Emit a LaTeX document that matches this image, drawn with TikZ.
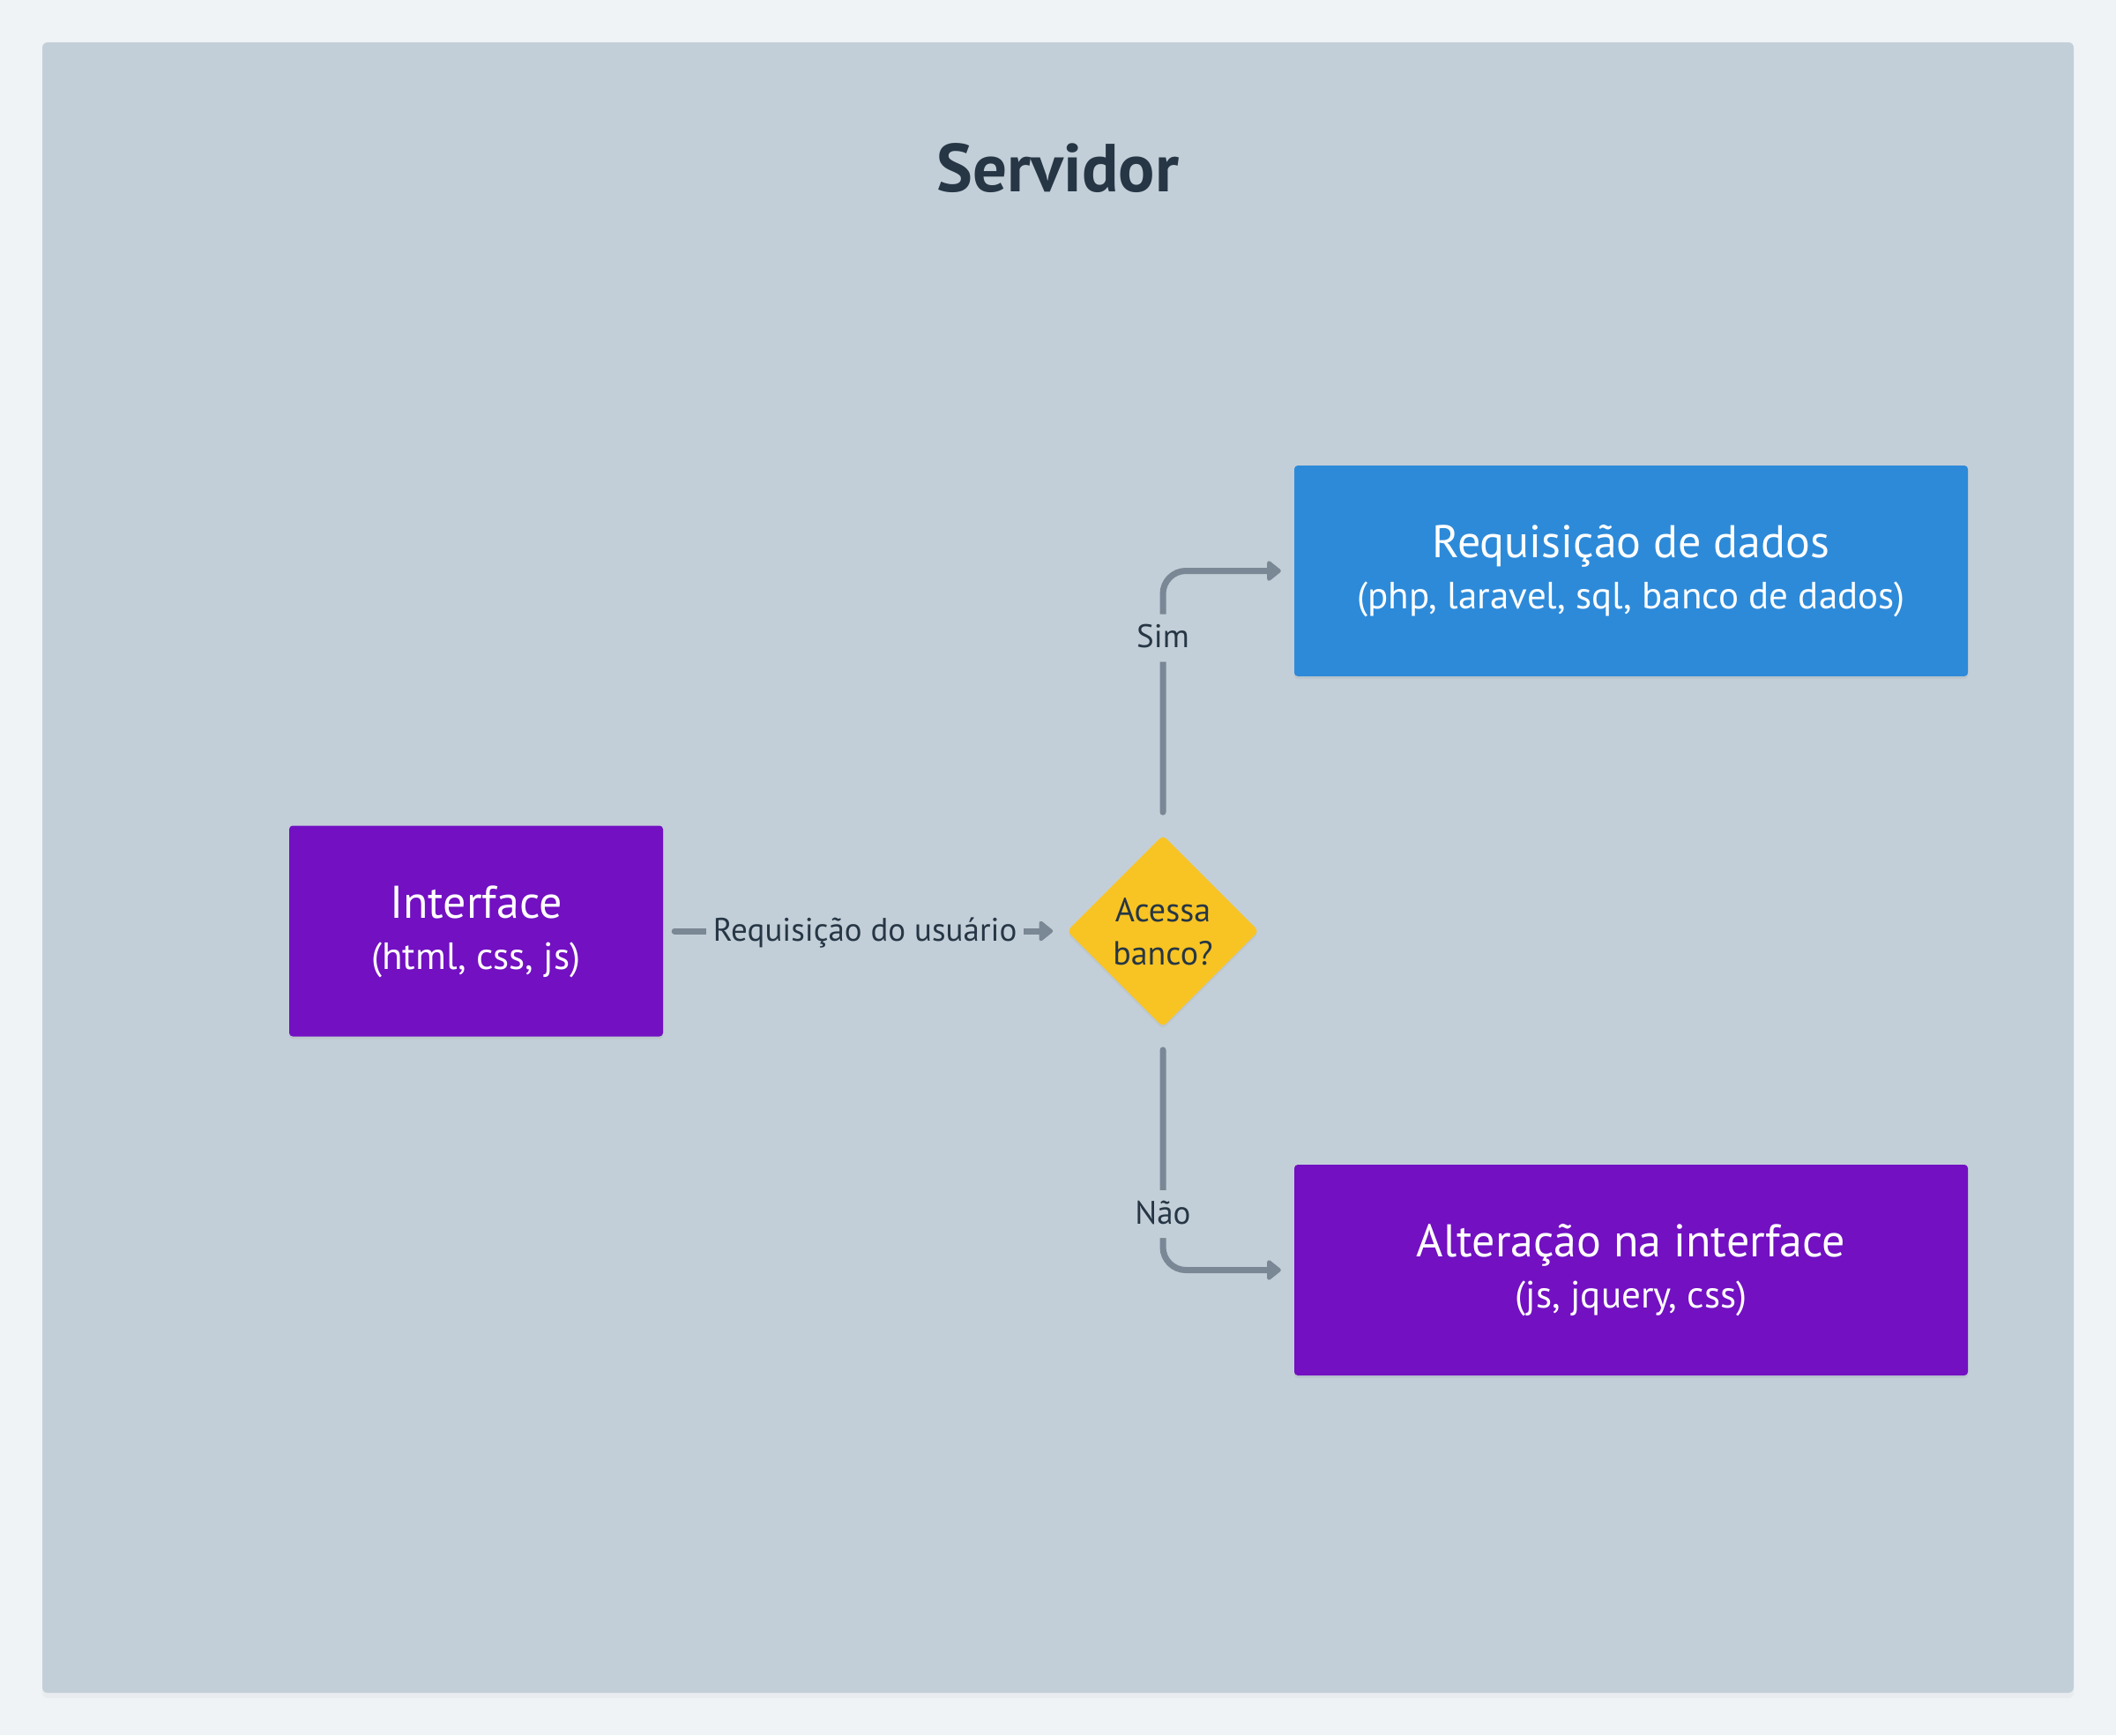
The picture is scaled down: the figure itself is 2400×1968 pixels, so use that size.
\documentclass[tikz,border=0pt]{standalone}
\usepackage{fontspec}
\setmainfont{PT Sans}
\usetikzlibrary{arrows.meta,shapes.geometric,shadows,calc}
\definecolor{pagebg}{HTML}{EFF3F6}
\definecolor{framebg}{HTML}{C3CFD8}
\definecolor{boxblue}{HTML}{2D8AD9}
\definecolor{boxpurple}{HTML}{7210C2}
\definecolor{diayellow}{HTML}{F8C424}
\definecolor{conngray}{HTML}{7A8794}
\definecolor{darktext}{HTML}{263645}
\newcommand\subline[1]{{\fontsize{43}{58}\selectfont #1}}
\tikzset{
  framebox/.style={fill=framebg, draw=none, rounded corners=6pt, inner sep=0pt,
    drop shadow={opacity=0.06, shadow xshift=0pt, shadow yshift=-6pt}},
  stepbox/.style={draw=none, rounded corners=4pt, minimum width=764pt, minimum height=239pt,
    text=white, align=center, inner sep=0pt, text height=100pt, text depth=14pt,
    font=\fontsize{52}{58}\selectfont,
    drop shadow={opacity=0.12, shadow xshift=0pt, shadow yshift=-3pt}},
  decision/.style={diamond, fill=diayellow, draw=none, rounded corners=5pt, inner sep=0pt,
    minimum width=212pt, minimum height=214pt, align=center, text=darktext,
    font=\fontsize{38}{49}\selectfont, text height=90pt, text depth=14pt,
    drop shadow={opacity=0.10, shadow xshift=0pt, shadow yshift=-3pt}},
  conn/.style={draw=conngray, line width=7pt, line cap=round,
    -{Triangle[round,length=17pt,width=26pt]}},
  lbl/.style={fill=framebg, text=darktext, inner xsep=8pt, inner ysep=10pt,
    text height=28pt, text depth=6pt, font=\fontsize{37}{44}\selectfont},
  titletext/.style={text=darktext, font=\fontsize{77}{84}\selectfont\bfseries, inner sep=0pt}
}
\begin{document}
\begin{tikzpicture}[x=1pt,y=-1pt]
\useasboundingbox (0,0) rectangle (2400,1968);
\fill[pagebg] (0,0) rectangle (2400,1968);
\node[framebox, minimum width=2304pt, minimum height=1872pt] (frame) at (1200,984) {};
\node[titletext, anchor=base] (title) at (1200,217) {Servidor};

\node[stepbox, fill=boxpurple, minimum width=424pt] (iface) at (540,1056)
  {Interface\\\subline{(html, css, js)}};
\node[stepbox, fill=boxblue] (req) at (1850,647.5)
  {Requisição de dados\\\subline{(php, laravel, sql, banco de dados)}};
\node[stepbox, fill=boxpurple] (alt) at (1850,1440.5)
  {Alteração na interface\\\subline{(js, jquery, css)}};
\node[decision] (dia) at (1319,1056) {Acessa\\banco?};

\draw[conn, shorten <=13pt, shorten >=16pt] (iface.east) -- node[lbl] {Requisição do usuário} (dia.west);
\draw[conn, rounded corners=26pt, shorten <=26pt, shorten >=15pt] (dia.north) |- node[lbl, pos=0.373, inner xsep=4pt] {Sim} (req.west);
\draw[conn, rounded corners=26pt, shorten <=26pt, shorten >=15pt] (dia.south) |- node[lbl, pos=0.385, inner xsep=4pt] {Não} (alt.west);
\end{tikzpicture}
\end{document}
